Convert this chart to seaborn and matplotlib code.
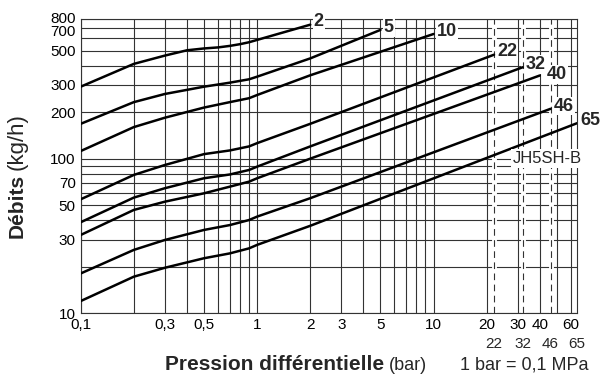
import matplotlib
matplotlib.use("Agg")
import matplotlib.pyplot as plt
import matplotlib.transforms as mtransforms
from matplotlib.ticker import FixedLocator, NullFormatter
import seaborn as sns

# ── DATA ────────────────────────────────────────────────────
x_2 = [0.1, 0.2, 0.3, 0.4, 0.5, 0.6, 0.7, 0.8, 0.9, 1, 2]
y_2 = [292, 410, 464, 502, 516, 524, 536, 550, 566, 586, 735]
x_5 = [0.1, 0.2, 0.3, 0.5, 0.7, 0.9, 1, 2, 5]
y_5 = [168, 232, 262, 292, 310, 326, 339, 445, 680]
x_10 = [0.1, 0.2, 0.3, 0.5, 0.7, 0.9, 1, 2, 10]
y_10 = [112, 160, 184, 214, 232, 246, 258, 346, 640]
x_22 = [0.1, 0.2, 0.3, 0.5, 0.7, 0.9, 1, 2, 22]
y_22 = [54.6, 78.5, 91, 107, 113, 120, 126, 168, 470]
x_32 = [0.1, 0.2, 0.3, 0.5, 0.7, 0.9, 1, 2, 32]
y_32 = [38.8, 56, 64.4, 74.7, 79, 84.5, 88.8, 120, 390]
x_40 = [0.1, 0.2, 0.3, 0.5, 0.7, 0.9, 1, 2, 40]
y_40 = [32.1, 46.6, 52.7, 59.7, 65.9, 71, 74.7, 100, 345]
x_46 = [0.1, 0.2, 0.3, 0.5, 0.7, 0.9, 1, 2, 46]
y_46 = [18.1, 25.7, 29.8, 34.6, 37.2, 40.1, 42.2, 55.5, 210]
x_65 = [0.1, 0.2, 0.3, 0.5, 0.7, 0.9, 1, 2, 65]
y_65 = [12.0, 17.25, 19.7, 22.7, 24.4, 26.3, 27.7, 36.8, 169.5]

curves = [("2", x_2, y_2), ("5", x_5, y_5), ("10", x_10, y_10),
          ("22", x_22, y_22), ("32", x_32, y_32), ("40", x_40, y_40),
          ("46", x_46, y_46), ("65", x_65, y_65)]

x_ticks = [0.1, 0.3, 0.5, 1, 2, 3, 5, 10, 20, 30, 40, 60]
x_tick_labels = ["0,1", "0,3", "0,5", "1", "2", "3", "5", "10", "20", "30", "40", "60"]
x_ticks_row2 = [22, 32, 46, 65]
x_grid_minor = [0.2, 0.4, 0.6, 0.7, 0.8, 0.9, 4, 6, 7, 8, 9, 50]
x_dashed = [22, 32, 46]

y_ticks = [10, 30, 50, 70, 100, 200, 300, 500, 700, 800]
y_grid_minor = [20, 40, 60, 80, 90, 400, 600]

# ── STYLE ───────────────────────────────────────────────────
sns.set_style("white")
plt.rcParams['font.family'] = ['Liberation Sans', 'DejaVu Sans']
GRID = '#333333'

fig = plt.figure(figsize=(6.01, 3.74), dpi=100)
ax = fig.add_axes([80.7 / 601, (374 - 313.3) / 374, (577 - 80.7) / 601, (313.3 - 19) / 374])
ax.set_xscale('log')
ax.set_yscale('log')
ax.set_xlim(0.1, 65)
ax.set_ylim(10, 800)

ax.xaxis.set_major_locator(FixedLocator(x_ticks))
ax.xaxis.set_minor_locator(FixedLocator(x_grid_minor))
ax.set_xticklabels(x_tick_labels)
ax.xaxis.set_minor_formatter(NullFormatter())
ax.yaxis.set_major_locator(FixedLocator(y_ticks))
ax.yaxis.set_minor_locator(FixedLocator(y_grid_minor))
ax.set_yticklabels([str(v) for v in y_ticks])
ax.yaxis.set_minor_formatter(NullFormatter())
ax.tick_params(which='both', length=0, labelsize=11, colors='black')
ax.tick_params(axis='x', pad=3.5)
ax.tick_params(axis='y', pad=3.5)

# 800 and 700 sit very close: nudge them apart a little
for lab in ax.get_yticklabels():
    if lab.get_text() == "800":
        lab.set_transform(lab.get_transform() + mtransforms.ScaledTranslation(0, 1.5 / 100, fig.dpi_scale_trans))
    elif lab.get_text() == "700":
        lab.set_transform(lab.get_transform() + mtransforms.ScaledTranslation(0, -2.5 / 100, fig.dpi_scale_trans))

ax.set_axisbelow(True)
ax.grid(True, which='both', color=GRID, lw=0.8)
for s in ax.spines.values():
    s.set_visible(True)
    s.set_color(GRID)
    s.set_linewidth(0.8)

for v in x_dashed:
    ax.axvline(v, color='white', lw=3.5, zorder=1)
    ax.axvline(v, color=GRID, lw=0.8, ls=(0, (6, 4)), zorder=1.5)

label_offsets = {"40": (5, 0.5), "32": (2, 2)}
for name, xs, ys in curves:
    sns.lineplot(x=xs, y=ys, ax=ax, color='black', lw=1.8, sort=False,
                 estimator=None, zorder=3)
    ax.annotate(name, xy=(xs[-1], ys[-1]), xytext=label_offsets.get(name, (2.5, 2)),
                textcoords='offset points', ha='left', va='center', fontsize=13,
                fontweight='bold', zorder=4, annotation_clip=False,
                bbox=dict(boxstyle='square,pad=0.05', fc='white', ec='none'))

ax.annotate("JH5SH-B", xy=(65, 100), xytext=(3.5, 0), textcoords='offset points',
            ha='right', va='center', fontsize=12, zorder=4, annotation_clip=False,
            bbox=dict(boxstyle='square,pad=0.1', fc='white', ec='none'))

for v in x_ticks_row2:
    ax.annotate(str(v), xy=(v, 0), xycoords=('data', 'axes fraction'),
                xytext=(0, -22), textcoords='offset points',
                ha='center', va='center', fontsize=11, annotation_clip=False)

ax.set_xlabel("")
ax.set_ylabel("")

# axis titles: bold part + regular part
fig.text(384 / 601, 1 - 364 / 374, "Pression différentielle", ha='right', va='center',
         fontsize=15, fontweight='bold')
fig.text(389 / 601, 1 - 365 / 374, "(bar)", ha='left', va='center', fontsize=13)
fig.text(17 / 601, 1 - 238 / 374, "Débits", ha='center', va='bottom', rotation=90,
         fontsize=15, fontweight='bold')
fig.text(17 / 601, 1 - 170 / 374, "(kg/h)", ha='center', va='bottom', rotation=90,
         fontsize=16)
fig.text(588 / 601, 1 - 365 / 374, "1 bar = 0,1 MPa", ha='right', va='center',
         fontsize=13)

fig.savefig("out.png", dpi=100)
